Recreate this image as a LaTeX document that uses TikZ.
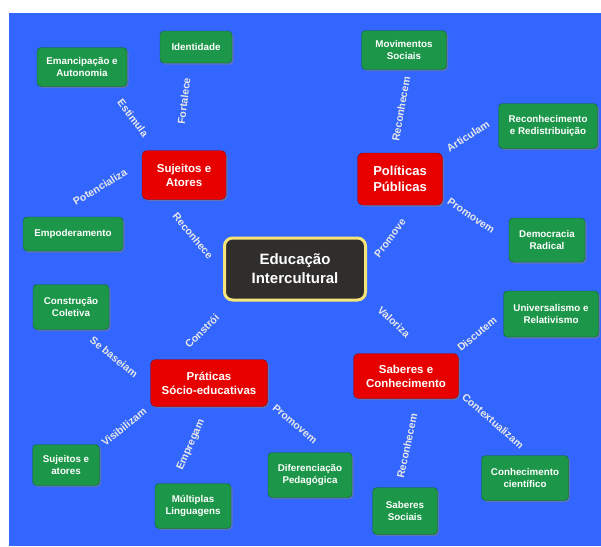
\documentclass[tikz,border=0pt]{standalone}
\usepackage{fontspec}
\setmainfont{Liberation Sans}
\usepackage{tikz}
\usetikzlibrary{shadows}

\definecolor{azulfundo}{RGB}{51,102,255}
\definecolor{verderamo}{RGB}{28,150,72}
\definecolor{verdeborda}{RGB}{14,100,44}
\definecolor{vermelho}{RGB}{230,0,0}
\definecolor{vermborda}{RGB}{150,0,0}
\definecolor{cinzacentro}{RGB}{48,46,44}
\definecolor{amarelo}{RGB}{245,228,120}
\definecolor{rotulocor}{RGB}{232,232,232}

\begin{document}
\begin{tikzpicture}[x=1pt,y=-1pt,
	ramo/.style={draw=verdeborda, fill=verderamo, rounded corners=4pt, text=white,
		font=\bfseries\fontsize{9.8}{11.5}\selectfont, align=center, inner sep=2pt,
		drop shadow={shadow xshift=1.5pt, shadow yshift=-1.5pt, opacity=.55}},
	eixo/.style={draw=vermborda, fill=vermelho, rounded corners=5pt, text=white,
		font=\bfseries\fontsize{11.5}{14}\selectfont, align=center, inner sep=2pt,
		drop shadow={shadow xshift=1.5pt, shadow yshift=-1.5pt, opacity=.55}},
	centro/.style={draw=amarelo, line width=3pt, fill=cinzacentro, rounded corners=8pt,
		text=white, font=\bfseries\fontsize{15}{19}\selectfont, align=center, inner sep=2pt},
	rotulo/.style={text=rotulocor, font=\bfseries\fontsize{10.5}{12}\selectfont, inner sep=0pt}]

	\useasboundingbox (0,0) rectangle (601,546);
	\fill[azulfundo] (9,13) rectangle (601,546);

	% centro
	\node[centro, minimum width=141pt, minimum height=62pt] (edu) at (295,269) {Educação\\Intercultural};

	% eixos
	\node[eixo, minimum width=84pt, minimum height=49pt] (suj) at (184,175) {Sujeitos e\\Atores};
	\node[eixo, minimum width=85pt, minimum height=52pt, font=\bfseries\fontsize{13}{16}\selectfont] (pol) at (400,179) {Políticas\\Públicas};
	\node[eixo, minimum width=117pt, minimum height=47pt] (pra) at (209,383) {Práticas\\Sócio-educativas};
	\node[eixo, minimum width=105pt, minimum height=45pt] (sab) at (406,376) {Saberes e\\Conhecimento};

	% ramos
	\node[ramo, minimum width=90pt, minimum height=39pt] (emanc) at (82,67) {Emancipação e\\Autonomia};
	\node[ramo, minimum width=72pt, minimum height=32pt] (ident) at (196,47) {Identidade};
	\node[ramo, minimum width=100pt, minimum height=34pt] (empod) at (73,234) {Empoderamento};
	\node[ramo, minimum width=85pt, minimum height=39pt] (movim) at (404,50) {Movimentos\\Sociais};
	\node[ramo, minimum width=99pt, minimum height=45pt] (recon) at (548,126) {Reconhecimento\\e Redistribuição};
	\node[ramo, minimum width=76pt, minimum height=44pt] (democ) at (547,240) {Democracia\\Radical};
	\node[ramo, minimum width=76pt, minimum height=45pt] (constr) at (71,307) {Construção\\Coletiva};
	\node[ramo, minimum width=67pt, minimum height=41pt] (sujat) at (66,465) {Sujeitos e\\atores};
	\node[ramo, minimum width=76pt, minimum height=45pt] (multi) at (193,506) {Múltiplas\\Linguagens};
	\node[ramo, minimum width=84pt, minimum height=45pt] (difer) at (310,475) {Diferenciação\\Pedagógica};
	\node[ramo, minimum width=95pt, minimum height=46pt] (univ) at (551,314) {Universalismo e\\Relativismo};
	\node[ramo, minimum width=87pt, minimum height=45pt] (cienc) at (525,478) {Conhecimento\\científico};
	\node[ramo, minimum width=65pt, minimum height=47pt] (sabsoc) at (405,511) {Saberes\\Sociais};

	% rotulos
	\node[rotulo, rotate=-53] (r1) at (133,118) {Estimula};
	\node[rotulo, rotate=83] (r2) at (184,101) {Fortalece};
	\node[rotulo, rotate=31] (r3) at (100,187) {Potencializa};
	\node[rotulo, rotate=-50] (r4) at (193,236) {Reconhece};
	\node[rotulo, rotate=80] (r5) at (401,109) {Reconhecem};
	\node[rotulo, rotate=33] (r6) at (468,136) {Articulam};
	\node[rotulo, rotate=-34] (r7) at (471,216) {Promovem};
	\node[rotulo, rotate=53] (r8) at (390,238) {Promove};
	\node[rotulo, rotate=45] (r9) at (202,331) {Constrói};
	\node[rotulo, rotate=-39] (r10) at (114,357) {Se baseiam};
	\node[rotulo, rotate=39] (r11) at (124,427) {Visibilizam};
	\node[rotulo, rotate=66] (r12) at (191,445) {Empregam};
	\node[rotulo, rotate=-40] (r13) at (295,424) {Promovem};
	\node[rotulo, rotate=-43] (r14) at (394,322) {Valoriza};
	\node[rotulo, rotate=39] (r15) at (477,334) {Discutem};
	\node[rotulo, rotate=-41] (r16) at (493,421) {Contextualizam};
	\node[rotulo, rotate=78] (r17) at (407,446) {Reconhecem};
\end{tikzpicture}
\end{document}
